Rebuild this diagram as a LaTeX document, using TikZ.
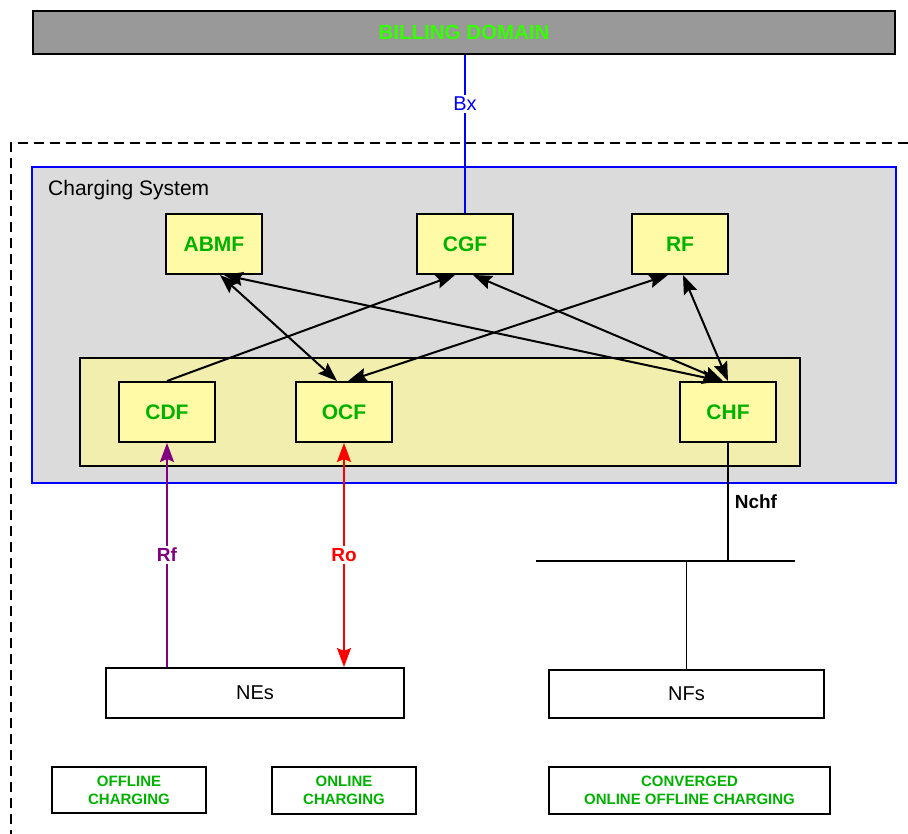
\documentclass[tikz,border=0pt]{standalone}
\usepackage{fontspec}
\setmainfont{Liberation Sans}
\usetikzlibrary{arrows.meta}

\begin{document}
\begin{tikzpicture}[x=1pt, y=-1pt,
    tip/.tip = {Stealth[length=19pt, width=14pt, inset=3pt]},
    fbox/.style = {draw, line width=2pt, fill = fyellow, minimum width=96pt, minimum height=60pt,
      inner sep=0pt, text = lgreen, font=\fontsize{21}{24}\selectfont\bfseries},
    plainbox/.style = {draw, line width=2pt, fill = white, inner sep=0pt},
    tagbox/.style = {plainbox, align=center, text = lgreen, font=\fontsize{15}{18}\selectfont\bfseries},
    link/.style = {line width=2pt, tip-tip},
    lbl/.style = {fill = white, inner sep=2pt, font=\fontsize{19}{22}\selectfont\bfseries}]
  \useasboundingbox (0,0) rectangle (908,834);

  \colorlet{lgreen}{green!70!black}
  \colorlet{bgreen}{green!80!yellow}
  \colorlet{fyellow}{yellow!35!white}
  \colorlet{cyellow}{yellow!30!white!94!black}
  \colorlet{sysgray}{black!14!white}
  \colorlet{billgray}{black!40!white}
  \colorlet{rfpurple}{red!50!blue}

  % billing domain and outer frame
  \node[draw, line width=2pt, fill = billgray, minimum width=862pt, minimum height=43pt, inner sep=0pt,
    text = bgreen, font=\fontsize{20.5}{24}\selectfont\bfseries] (bill) at (464,32.5) {BILLING DOMAIN};
  \draw[line width=1.8pt, dash pattern=on 10pt off 6pt] (908,143) -- (11,143) -- (11,834);

  % charging system
  \node[draw = blue, line width=1.6pt, fill = sysgray, minimum width=864pt, minimum height=316pt,
    inner sep=0pt] (sys) at (464,325) {};
  \node[anchor=west, inner sep=0pt, font=\fontsize{21}{24}\selectfont] (systxt) at (48,190) {Charging System};
  \node[draw, line width=2pt, fill = cyellow, minimum width=720pt, minimum height=108pt,
    inner sep=0pt] (core) at (440,412) {};

  \foreach \x/\n/\t in {214/abmf/ABMF, 465/cgf/CGF, 680/rf/RF}
    \node[fbox] (\n) at (\x,244) {\t};
  \foreach \x/\n/\t in {167/cdf/CDF, 344/ocf/OCF, 728/chf/CHF}
    \node[fbox] (\n) at (\x,412) {\t};

  % network side
  \node[plainbox, minimum width=298pt, minimum height=50pt, font=\fontsize{20}{24}\selectfont] (nes) at (255,693) {NEs};
  \node[plainbox, minimum width=275pt, minimum height=48pt, font=\fontsize{20}{24}\selectfont] (nfs) at (686.5,694) {NFs};
  \coordinate (busl) at (536,561);
  \coordinate (busr) at (795,561);

  \node[tagbox, minimum width=154pt, minimum height=46pt] (offl) at (129,790) {OFFLINE\\CHARGING};
  \node[tagbox, minimum width=144pt, minimum height=47pt] (onl) at (344,790.5) {ONLINE\\CHARGING};
  \node[tagbox, minimum width=281pt, minimum height=47pt] (conv) at (689.5,790.5) {CONVERGED\\ONLINE OFFLINE CHARGING};

  % interfaces
  \draw[blue, line width=2.8pt] (cgf.north |- bill.south) -- node[lbl, pos=0.31, text = blue, font=\fontsize{20}{24}\selectfont] {Bx} (cgf.north);

  \draw[link] ([xshift=6pt]abmf.south) -- ([xshift=-7pt]ocf.north);
  \draw[link] ([xshift=10pt]abmf.south) -- ([xshift=-7pt]chf.north);
  \draw[line width=2pt, -tip] (cdf.north) -- ([xshift=-10pt]cgf.south);
  \draw[link] ([xshift=8pt]cgf.south) -- ([xshift=-5pt]chf.north);
  \draw[link] ([xshift=-12pt]rf.south) -- ([xshift=4pt]ocf.north);
  \draw[link] ([xshift=3pt]rf.south) -- (chf.north);

  \draw[rfpurple, line width=1.5pt, -tip]
    (cdf.south |- nes.north) -- node[lbl, text = rfpurple] {Rf} (cdf.south);
  \draw[red, line width=2pt, tip-tip]
    (ocf.south) -- node[lbl, text = red] {Ro} (ocf.south |- nes.north);

  \draw[line width=1.6pt] (chf.south) -- node[right, inner sep=6pt, font=\fontsize{19}{22}\selectfont\bfseries] {Nchf} (chf.south |- busl);
  \draw[line width=2.8pt] (busl) -- (busr);
  \draw[line width=1.6pt] (nfs.north |- busl) -- (nfs.north);

\end{tikzpicture}
\end{document}
